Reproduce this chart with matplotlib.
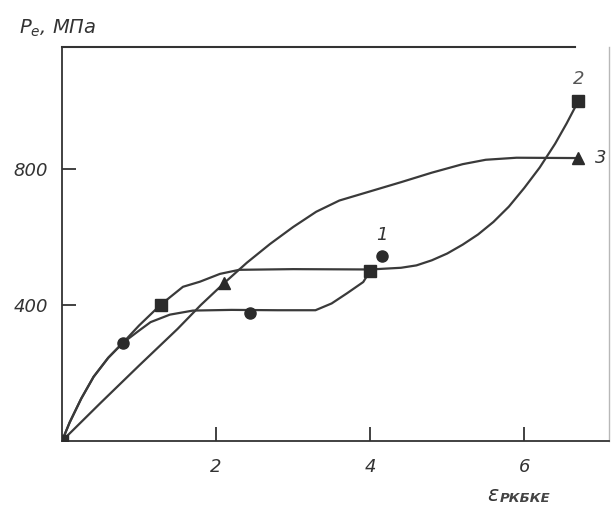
import matplotlib
matplotlib.use("Agg")
import matplotlib.pyplot as plt

# Curve 1 (circles)
x1 = [0, 0.1, 0.25, 0.41, 0.6, 0.79, 1.0, 1.15, 1.4, 1.7, 2.2, 2.8, 3.29, 3.5, 3.7, 3.91, 4.0]
y1 = [0, 55, 125, 189, 245, 289, 325, 350, 372, 384, 386, 385, 385, 405, 435, 468, 501]
m1x = [0.79, 2.44, 4.15]
m1y = [289, 376, 544]

# Curve 2 (squares)
x2 = [0, 0.1, 0.25, 0.41, 0.6, 0.79, 1.0, 1.28, 1.57, 1.79, 2.05, 2.3, 3.0, 4.0, 4.4, 4.6, 4.8, 5.0,
      5.2, 5.4, 5.6, 5.8, 6.0, 6.2, 6.4, 6.55, 6.7]
y2 = [0, 55, 125, 189, 245, 289, 340, 401, 454, 469, 492, 504, 506, 505, 510, 517, 532, 552,
      578, 608, 645, 690, 745, 805, 875, 935, 1000]
m2x = [0, 1.28, 4.0, 6.7]
m2y = [0, 401, 501, 1000]

# Curve 3 (triangles)
x3 = [0, 0.5, 1.0, 1.5, 1.8, 2.1, 2.4, 2.7, 3.0, 3.3, 3.6, 4.0, 4.4, 4.8, 5.2, 5.5, 5.9, 6.7]
y3 = [0, 112, 222, 330, 400, 464, 525, 580, 630, 675, 708, 735, 762, 790, 815, 828, 834, 833]
m3x = [2.1, 6.7]
m3y = [464, 832]

xticks = [2, 4, 6]
yticks = [400, 800]

fig = plt.figure(figsize=(6.13, 5.2), dpi=100)
ax = fig.add_axes([62/613, 1 - 441/520, 547/613, (441 - 47)/520])

lc = "#3a3a3a"
mc = "#2b2b2b"
tc = "#333333"
lw = 1.6
ax.plot(x1, y1, color=lc, lw=lw, zorder=2)
ax.plot(x2, y2, color=lc, lw=lw, zorder=2)
ax.plot(x3, y3, color=lc, lw=lw, zorder=2)
ax.plot(m1x, m1y, 'o', color=mc, ms=8, zorder=3, ls='none')
ax.plot(m2x, m2y, 's', color=mc, ms=8, zorder=3, ls='none')
ax.plot(m3x, m3y, '^', color=mc, ms=8, zorder=3, ls='none')

ax.set_xlim(0, 7.1)
ax.set_ylim(0, 1160)
ax.set_xticks(xticks)
ax.set_yticks(yticks)
ax.set_xticklabels([str(t) for t in xticks], fontsize=13, style='italic', color=tc)
ax.set_yticklabels([str(t) for t in yticks], fontsize=13, style='italic', color=tc)
ax.tick_params(axis='both', direction='in', length=10, width=1.3, color=tc)
ax.tick_params(axis='x', pad=12)
ax.tick_params(axis='y', pad=10)
for name in ['left', 'bottom']:
    ax.spines[name].set_color(tc)
    ax.spines[name].set_linewidth(1.3)
ax.spines['right'].set_color('#b8b8b8')
ax.spines['right'].set_linewidth(1.0)
ax.spines['top'].set_visible(False)
# top frame line ends short of the right edge, as in the scan
ax.plot([0, 6.66], [1160, 1160], color=tc, lw=1.5, clip_on=False, zorder=4)

# curve labels
ax.text(4.15, 580, "1", fontsize=13, style='italic', color=tc, ha='center', va='bottom')
ax.text(6.7, 1040, "2", fontsize=13, style='italic', color='#555555', ha='center', va='bottom')
ax.text(6.92, 832, "3", fontsize=13, style='italic', color=tc, ha='left', va='center')

# axis labels
fig.text(19/613, 1 - 28/520, "$P_e$, МПа", fontsize=14, style='italic', color=tc,
         ha='left', va='center')
fig.text(487/613, 1 - 495/520, r"$\varepsilon$", fontsize=15, color=tc, ha='left', va='center')
fig.text(500/613, 1 - 499/520, "РКБКЕ", fontsize=9.5, style='italic', weight='bold', color='#444444',
         ha='left', va='center')

fig.savefig("out.png", dpi=100)
